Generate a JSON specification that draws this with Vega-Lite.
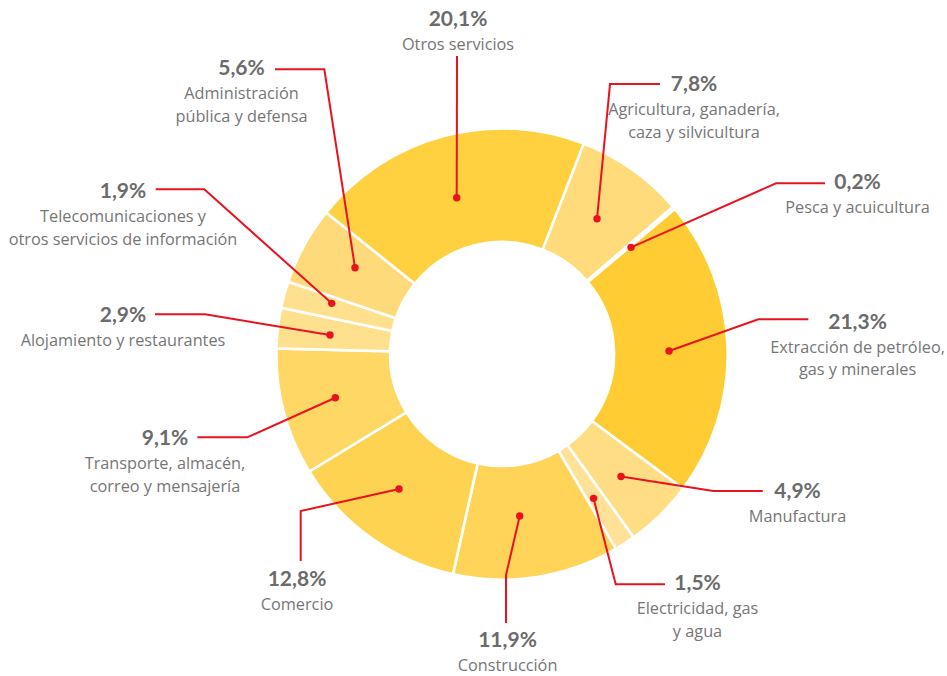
{
  "$schema": "https://vega.github.io/schema/vega-lite/v6.json",
  "width": 947,
  "height": 676,
  "padding": 0,
  "autosize": {"type": "fit", "contains": "padding"},
  "background": "white",
  "config": {"view": {"stroke": null}},
  "datasets": {
    "slices": [
      {"order": 1, "sector": "Agricultura", "value": 7.8},
      {"order": 2, "sector": "Pesca", "value": 0.2},
      {"order": 3, "sector": "Extracción", "value": 21.3},
      {"order": 4, "sector": "Manufactura", "value": 4.9},
      {"order": 5, "sector": "Electricidad", "value": 1.5},
      {"order": 6, "sector": "Construcción", "value": 11.9},
      {"order": 7, "sector": "Comercio", "value": 12.8},
      {"order": 8, "sector": "Transporte", "value": 9.1},
      {"order": 9, "sector": "Alojamiento", "value": 2.9},
      {"order": 10, "sector": "Telecom", "value": 1.9},
      {"order": 11, "sector": "Administración", "value": 5.6},
      {"order": 12, "sector": "Otros servicios", "value": 20.1}
    ],
    "leaders": [
      {"sector": "Otros servicios", "i": 0, "x": -20.18, "y": 69.62},
      {"sector": "Otros servicios", "i": 1, "x": -20.04, "y": 132.74},
      {"sector": "Agricultura", "i": 0, "x": 42.32, "y": 60.27},
      {"sector": "Agricultura", "i": 1, "x": 48.11, "y": 120.27},
      {"sector": "Agricultura", "i": 2, "x": 70.38, "y": 120.27},
      {"sector": "Pesca", "i": 0, "x": 57.46, "y": 47.53},
      {"sector": "Pesca", "i": 1, "x": 122.05, "y": 76.04},
      {"sector": "Pesca", "i": 2, "x": 143.88, "y": 76.04},
      {"sector": "Extracción", "i": 0, "x": 74.39, "y": 1.34},
      {"sector": "Extracción", "i": 1, "x": 114.17, "y": 15.46},
      {"sector": "Extracción", "i": 2, "x": 136.44, "y": 15.46},
      {"sector": "Manufactura", "i": 0, "x": 53.01, "y": -54.57},
      {"sector": "Manufactura", "i": 1, "x": 94.12, "y": -61.02},
      {"sector": "Manufactura", "i": 2, "x": 116.13, "y": -61.02},
      {"sector": "Electricidad", "i": 0, "x": 40.76, "y": -64.28},
      {"sector": "Electricidad", "i": 1, "x": 50.65, "y": -102.58},
      {"sector": "Electricidad", "i": 2, "x": 72.61, "y": -102.58},
      {"sector": "Construcción", "i": 0, "x": 7.88, "y": -72.16},
      {"sector": "Construcción", "i": 1, "x": 1.78, "y": -98.44},
      {"sector": "Construcción", "i": 2, "x": 1.78, "y": -119.82},
      {"sector": "Comercio", "i": 0, "x": -45.88, "y": -60.13},
      {"sector": "Comercio", "i": 1, "x": -89.67, "y": -69.93},
      {"sector": "Comercio", "i": 2, "x": -89.67, "y": -92.2},
      {"sector": "Transporte", "i": 0, "x": -74.25, "y": -19.47},
      {"sector": "Transporte", "i": 1, "x": -113.45, "y": -37.1},
      {"sector": "Transporte", "i": 2, "x": -135.72, "y": -37.1},
      {"sector": "Alojamiento", "i": 0, "x": -76.61, "y": 8.46},
      {"sector": "Alojamiento", "i": 1, "x": -132.29, "y": 17.68},
      {"sector": "Alojamiento", "i": 2, "x": -154.57, "y": 17.68},
      {"sector": "Telecom", "i": 0, "x": -75.86, "y": 22.58},
      {"sector": "Telecom", "i": 1, "x": -132.61, "y": 73.36},
      {"sector": "Telecom", "i": 2, "x": -154.25, "y": 73.36},
      {"sector": "Administración", "i": 0, "x": -65.48, "y": 38.44},
      {"sector": "Administración", "i": 1, "x": -79.15, "y": 126.82},
      {"sector": "Administración", "i": 2, "x": -101.11, "y": 126.82}
    ],
    "labels": [
      {"sector": "Otros servicios", "pct": "20,1%", "name": "Otros servicios", "x": -19.6, "y": 148.66},
      {"sector": "Agricultura", "pct": "7,8%", "name": "Agricultura, ganadería,\ncaza y silvicultura", "x": 85.52, "y": 119.82},
      {"sector": "Pesca", "pct": "0,2%", "name": "Pesca y acuicultura", "x": 158.35, "y": 76.39},
      {"sector": "Extracción", "pct": "21,3%", "name": "Extracción de petróleo,\ngas y minerales", "x": 158.35, "y": 14.03},
      {"sector": "Manufactura", "pct": "4,9%", "name": "Manufactura", "x": 131.63, "y": -61.47},
      {"sector": "Electricidad", "pct": "1,5%", "name": "Electricidad, gas\ny agua", "x": 87.08, "y": -102.45},
      {"sector": "Construcción", "pct": "11,9%", "name": "Construcción", "x": 2.45, "y": -127.84},
      {"sector": "Comercio", "pct": "12,8%", "name": "Comercio", "x": -91.31, "y": -100.67},
      {"sector": "Transporte", "pct": "9,1%", "name": "Transporte, almacén,\ncorreo y mensajería", "x": -150.11, "y": -37.86},
      {"sector": "Alojamiento", "pct": "2,9%", "name": "Alojamiento y restaurantes", "x": -168.82, "y": 17.15},
      {"sector": "Telecom", "pct": "1,9%", "name": "Telecomunicaciones y\notros servicios de información", "x": -168.82, "y": 72.16},
      {"sector": "Administración", "pct": "5,6%", "name": "Administración\npública y defensa", "x": -116.04, "y": 126.95}
    ]
  },
  "resolve": {"scale": {"x": "shared", "y": "shared"}},
  "layer": [
    {
      "data": {"name": "slices"},
      "mark": {"type": "arc", "outerRadius": 225.7, "innerRadius": 112, "stroke": "white", "strokeWidth": 2.6},
      "encoding": {
        "x": {"datum": 0, "type": "quantitative", "scale": {"domain": [-223.6, 198.2], "nice": false, "zero": false}, "axis": null},
        "y": {"datum": 0, "type": "quantitative", "scale": {"domain": [-143.4, 157.7], "nice": false, "zero": false}, "axis": null},
        "theta": {"field": "value", "type": "quantitative", "stack": true, "scale": {"range": [0.37, 6.6532]}},
        "order": {"field": "order", "type": "quantitative"},
        "color": {
          "field": "sector", "type": "nominal", "legend": null,
          "scale": {
            "domain": ["Agricultura", "Pesca", "Extracción", "Manufactura", "Electricidad", "Construcción", "Comercio", "Transporte", "Alojamiento", "Telecom", "Administración", "Otros servicios"],
            "range": ["#FFDB7C", "#FFE296", "#FFCD33", "#FFDD85", "#FFE297", "#FFD459", "#FFD352", "#FFD765", "#FFE08E", "#FFE08E", "#FFDA7A", "#FFD03F"]
          }
        }
      }
    },
    {
      "data": {"name": "leaders"},
      "mark": {"type": "line", "color": "#E8131F", "strokeWidth": 2},
      "encoding": {
        "x": {"field": "x", "type": "quantitative"},
        "y": {"field": "y", "type": "quantitative"},
        "detail": {"field": "sector"},
        "order": {"field": "i", "type": "quantitative"}
      }
    },
    {
      "data": {"name": "leaders"},
      "transform": [{"filter": "datum.i == 0"}],
      "mark": {"type": "point", "filled": true, "color": "#E8131F", "size": 55, "opacity": 1},
      "encoding": {
        "x": {"field": "x", "type": "quantitative"},
        "y": {"field": "y", "type": "quantitative"}
      }
    },
    {
      "data": {"name": "labels"},
      "mark": {"type": "text", "font": "Lato", "fontWeight": "bold", "fontSize": 21, "color": "#6B6B6B", "align": "center", "baseline": "middle"},
      "encoding": {
        "x": {"field": "x", "type": "quantitative"},
        "y": {"field": "y", "type": "quantitative"},
        "text": {"field": "pct"}
      }
    },
    {
      "data": {"name": "labels"},
      "mark": {"type": "text", "font": "Open Sans", "fontSize": 16.3, "color": "#767676", "align": "center", "baseline": "alphabetic", "lineBreak": "\n", "lineHeight": 22.5, "dy": 30},
      "encoding": {
        "x": {"field": "x", "type": "quantitative"},
        "y": {"field": "y", "type": "quantitative"},
        "text": {"field": "name"}
      }
    }
  ]
}
